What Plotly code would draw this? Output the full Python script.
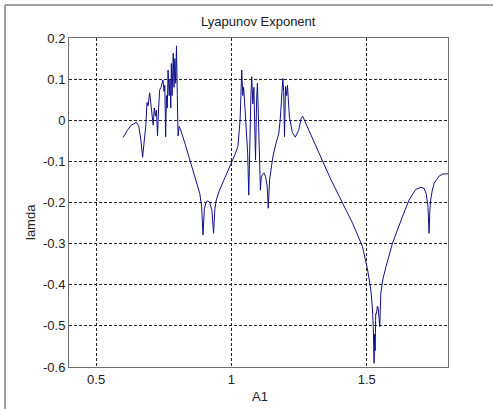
import plotly.graph_objects as go

A1 = [0.600, 0.615, 0.630, 0.649, 0.658, 0.665, 0.672, 0.676, 0.680, 0.684, 0.688, 0.692, 0.698, 0.703,
      0.707, 0.711, 0.715, 0.719, 0.723, 0.727, 0.731, 0.735, 0.740, 0.744, 0.747, 0.751, 0.754, 0.757,
      0.760, 0.763, 0.766, 0.770, 0.773, 0.776, 0.778, 0.781, 0.785, 0.788, 0.791, 0.794, 0.797, 0.800,
      0.803, 0.807, 0.811, 0.830, 0.850, 0.870, 0.883, 0.890, 0.895, 0.900, 0.907, 0.913, 0.920, 0.928,
      0.934, 0.939, 0.944, 0.956, 0.969, 0.985, 0.999, 1.012, 1.024, 1.032, 1.035, 1.038, 1.042, 1.045,
      1.050, 1.055, 1.060, 1.064, 1.068, 1.072, 1.075, 1.079, 1.083, 1.086, 1.089, 1.093, 1.096, 1.100,
      1.104, 1.107, 1.110, 1.114, 1.120, 1.126, 1.132, 1.136, 1.141, 1.153, 1.165, 1.175, 1.180, 1.184,
      1.188, 1.190, 1.193, 1.196, 1.200, 1.204, 1.207, 1.210, 1.214, 1.225, 1.236, 1.248, 1.258, 1.263,
      1.270, 1.290, 1.325, 1.368, 1.411, 1.448, 1.484, 1.503, 1.515, 1.520, 1.524, 1.527, 1.529, 1.531,
      1.533, 1.536, 1.539, 1.542, 1.545, 1.548, 1.552, 1.560, 1.571, 1.595, 1.632, 1.656, 1.681, 1.700,
      1.712, 1.720, 1.726, 1.730, 1.733, 1.736, 1.742, 1.749, 1.767, 1.780, 1.800]

lamda = [-0.042, -0.025, -0.012, -0.005, -0.015, -0.045, -0.090, -0.060, -0.040, -0.010, 0.043, 0.035, 0.067, 0.040,
         0.010, -0.012, 0.030, 0.010, 0.025, -0.038, 0.030, 0.074, 0.080, 0.090, 0.098, 0.070, 0.085, -0.040,
         0.060, 0.030, 0.122, 0.060, 0.100, 0.030, 0.138, 0.060, 0.163, 0.080, 0.150, 0.090, 0.181, 0.060,
         -0.038, -0.015, -0.020, -0.060, -0.105, -0.150, -0.178, -0.210, -0.279, -0.215, -0.198, -0.196, -0.200, -0.220,
         -0.275, -0.215, -0.194, -0.170, -0.150, -0.130, -0.105, -0.085, -0.064, 0.000, 0.060, 0.122, 0.060, 0.080,
         0.030, -0.016, -0.080, -0.182, 0.000, 0.060, 0.106, 0.040, 0.080, 0.000, -0.097, 0.050, 0.090, 0.000,
         -0.100, -0.170, -0.140, -0.133, -0.128, -0.137, -0.160, -0.214, -0.145, -0.089, -0.055, -0.032, 0.000, 0.041,
         0.095, 0.102, 0.070, -0.040, 0.082, 0.060, 0.085, 0.040, 0.009, -0.030, -0.041, -0.025, 0.005, 0.010,
         0.000, -0.030, -0.082, -0.145, -0.202, -0.251, -0.307, -0.364, -0.413, -0.450, -0.502, -0.591, -0.520, -0.560,
         -0.470, -0.470, -0.452, -0.455, -0.480, -0.502, -0.420, -0.385, -0.356, -0.299, -0.234, -0.194, -0.168, -0.163,
         -0.166, -0.180, -0.210, -0.275, -0.220, -0.194, -0.170, -0.153, -0.136, -0.131, -0.130]

x_ticks = [0.5, 1, 1.5]
x_tick_labels = ["0.5", "1", "1.5"]
y_ticks = [0.2, 0.1, 0, -0.1, -0.2, -0.3, -0.4, -0.5, -0.6]
y_tick_labels = ["0.2", "0.1", "0", "-0.1", "-0.2", "-0.3", "-0.4", "-0.5", "-0.6"]

W, H = 493, 409
L, R, T, B = 69, 448, 38, 367
def px(xp):
    return (xp - L) / (R - L)
def py(yp):
    return (B - yp) / (B - T)

fig = go.Figure()
fig.add_trace(go.Scatter(x=A1, y=lamda, mode="lines",
                         line=dict(color="#10108a", width=1), showlegend=False))

font = dict(family="Liberation Sans, Arial, sans-serif", size=13, color="#222222")
grid = dict(showgrid=True, gridcolor="#222222", gridwidth=1, griddash="3px,2px",
            showline=True, linecolor="#6e6e6e", linewidth=1, mirror=True,
            zeroline=False, ticks="", tickfont=font)

fig.update_layout(
    width=W, height=H,
    margin=dict(l=L, r=W - R, t=T, b=H - B, pad=0),
    paper_bgcolor="white", plot_bgcolor="white",
    xaxis=dict(range=[0.4, 1.8], tickvals=x_ticks, ticktext=x_tick_labels, **grid),
    yaxis=dict(range=[-0.6, 0.2], tickvals=y_ticks, ticktext=y_tick_labels, **grid),
    annotations=[
        dict(text="Lyapunov Exponent", x=px(258), y=py(22), xref="paper", yref="paper",
             showarrow=False, font=font, xanchor="center", yanchor="middle"),
        dict(text="A1", x=px(260), y=py(396), xref="paper", yref="paper",
             showarrow=False, font=font, xanchor="center", yanchor="middle"),
        dict(text="lamda", x=px(30), y=py(222), xref="paper", yref="paper", textangle=-90,
             showarrow=False, font=font, xanchor="center", yanchor="middle"),
    ],
    shapes=[
        dict(type="line", xref="paper", yref="paper", x0=px(5), y0=py(5), x1=px(493), y1=py(5),
             line=dict(color="#808080", width=1.5)),
        dict(type="line", xref="paper", yref="paper", x0=px(5), y0=py(5), x1=px(5), y1=py(409),
             line=dict(color="#808080", width=1.5)),
    ],
)

fig.write_html("out.html")
